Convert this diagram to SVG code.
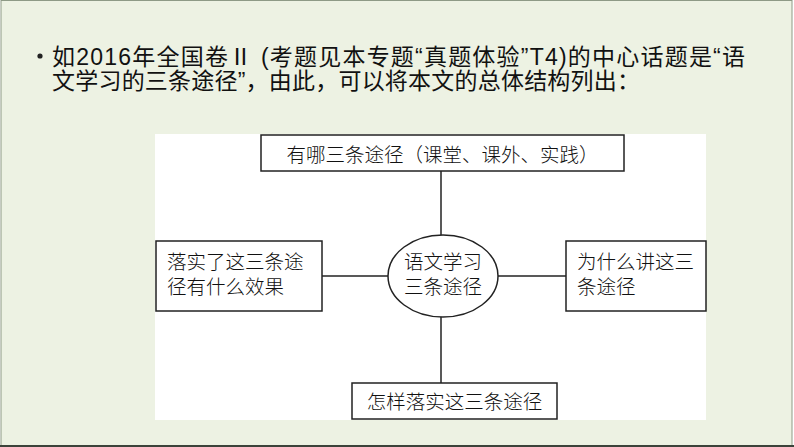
<svg xmlns="http://www.w3.org/2000/svg" width="794" height="447" viewBox="0 0 794 447">
<style>
.title{font-family:"Liberation Sans","Noto Sans CJK SC",sans-serif;font-size:23px;fill:#111}
.lbl{font-family:"Noto Sans CJK SC",sans-serif;font-size:19.5px;font-weight:300;fill:#111}
.box{fill:#fff;stroke:#222;stroke-width:1.5}
.conn{stroke:#222;stroke-width:1.5;fill:none}
</style>
<rect x="0" y="0" width="794" height="447" fill="#fff"/>
<rect x="1" y="0.5" width="791" height="445" fill="#EDF2E3" stroke="#8E9A86" stroke-width="1"/>
<line x1="0" y1="446" x2="794" y2="446" stroke="#3C433A" stroke-width="2"/>
<circle cx="40" cy="56" r="2.6" fill="#222"/>
<text class="title" x="52" y="65" textLength="693" lengthAdjust="spacing">如2016年全国卷Ⅱ (考题见本专题“真题体验”T4)的中心话题是“语</text>
<text class="title" x="52" y="89" textLength="588" lengthAdjust="spacing">文学习的三条途径”，由此，可以将本文的总体结构列出：</text>
<rect x="155" y="134" width="551" height="286" fill="#fff"/>
<g id="connectors">
<line class="conn" x1="441" y1="171" x2="441" y2="235"/>
<line class="conn" x1="441" y1="317" x2="441" y2="383"/>
<line class="conn" x1="322" y1="276" x2="388" y2="276"/>
<line class="conn" x1="498" y1="276" x2="566" y2="276"/>
</g>
<g id="top">
<rect class="box" x="261" y="135" width="363" height="36"/>
<text class="lbl" x="442.5" y="162" text-anchor="middle">有哪三条途径（课堂、课外、实践）</text>
</g>
<g id="left">
<rect class="box" x="156" y="241" width="166" height="70"/>
<text class="lbl" x="167" y="269">落实了这三条途</text>
<text class="lbl" x="167" y="294">径有什么效果</text>
</g>
<g id="center">
<ellipse class="box" cx="443" cy="276" rx="55" ry="41"/>
<text class="lbl" x="443" y="269" text-anchor="middle">语文学习</text>
<text class="lbl" x="443" y="294" text-anchor="middle">三条途径</text>
</g>
<g id="right">
<rect class="box" x="566" y="241" width="140" height="70"/>
<text class="lbl" x="577" y="269">为什么讲这三</text>
<text class="lbl" x="577" y="294">条途径</text>
</g>
<g id="bottom">
<rect class="box" x="352" y="383" width="205" height="36"/>
<text class="lbl" x="454.5" y="409" text-anchor="middle">怎样落实这三条途径</text>
</g>
</svg>
